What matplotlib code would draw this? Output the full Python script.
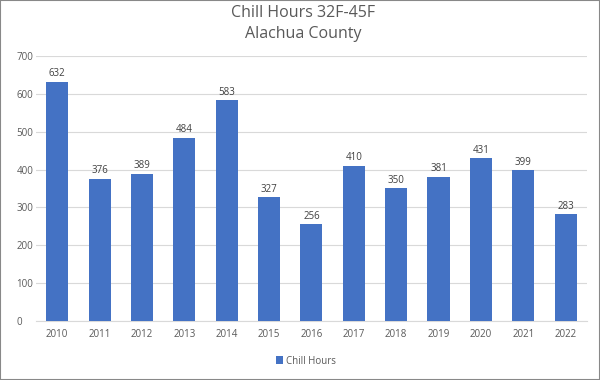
import matplotlib
matplotlib.use('Agg')
import matplotlib.pyplot as plt
import numpy as np

years = ['2010', '2011', '2012', '2013', '2014', '2015', '2016',
         '2017', '2018', '2019', '2020', '2021', '2022']
chill_hours = [632, 376, 389, 484, 583, 327, 256, 410, 350, 381, 431, 399, 283]

plt.rcParams['font.family'] = ['Open Sans', 'DejaVu Sans']
text_col = '#595959'

fig = plt.figure(figsize=(6.0, 3.8), dpi=100)
ax = fig.add_axes([0.06, 0.155, 0.918, 0.698])

x = np.arange(len(years))
bars = ax.bar(x, chill_hours, width=0.52, color='#4472C4', label='Chill Hours', zorder=3)
for xi, v in zip(x, chill_hours):
    ax.text(xi, v + 6, str(v), ha='center', va='bottom', fontsize=7, color='#404040')

ax.set_xlim(-0.5, len(years) - 0.5)
ax.set_ylim(0, 700)
ax.set_yticks(np.arange(0, 701, 100))
ax.set_xticks(x)
ax.set_xticklabels(years)
ax.tick_params(axis='both', length=0, labelsize=7, labelcolor=text_col)
ax.tick_params(axis='x', pad=6)
ax.tick_params(axis='y', pad=14)
for lbl in ax.get_yticklabels():
    lbl.set_horizontalalignment('left')
ax.yaxis.grid(True, color='#D9D9D9', linewidth=0.8, zorder=0)
for s in ['top', 'right', 'left']:
    ax.spines[s].set_visible(False)
ax.spines['bottom'].set_color('#D9D9D9')

fig.text(0.505, 0.965, 'Chill Hours 32F-45F', ha='center', va='center', fontsize=11.5, color=text_col)
fig.text(0.505, 0.91, 'Alachua County', ha='center', va='center', fontsize=11.5, color=text_col)

fig.legend(handles=[bars], labels=['Chill Hours'], loc='center', bbox_to_anchor=(0.51, 0.05),
           frameon=False, fontsize=7, labelcolor=text_col, handlelength=0.8, handleheight=0.8,
           handletextpad=0.3)

border = plt.Rectangle((0, 0), 1, 1, transform=fig.transFigure, fill=False,
                       edgecolor='#888888', linewidth=1.5)
fig.patches.append(border)

fig.savefig('out.png', dpi=100)
